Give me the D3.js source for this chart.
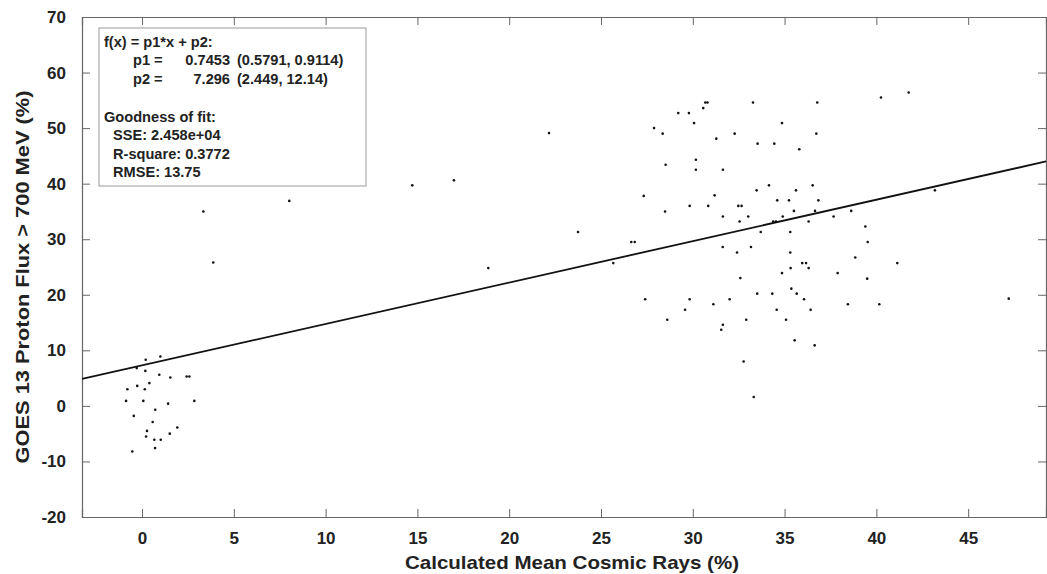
<!doctype html>
<meta charset='utf-8' />
<script src='https://cdn.jsdelivr.net/npm/d3@7'></script>
<style>
    body { margin: 0; background: #fff; }
    text { font-family: 'Liberation Sans', Arial, sans-serif; font-weight: bold; fill: #222; }
</style>
<svg></svg>
<script>
    var width = 1047,
        height = 574,
        margin = { left: 82, right: 1, top: 17, bottom: 57 }

    // calculated mean cosmic rays (%)
    var cosmic = [
        0.20, 1.00, -0.29, 0.18, 0.94, 1.54, 2.43, 2.58, -0.80, -0.26, 0.15, 0.40, -0.87, 0.07,
        2.85, 1.42, 0.72, -0.45, 0.58, 1.92, 0.27, 1.51, 0.22, 0.67, 1.02, -0.53, 0.71,
        3.34, 3.88, 8.02, 14.72, 16.99, 18.86, 22.17, 23.75,
        30.68, 30.80, 30.57, 29.21, 29.79, 30.07, 27.89, 28.36, 32.28, 31.28, 33.28, 33.53,
        30.17, 28.52, 30.17, 31.64, 33.48, 27.33, 31.19, 29.83, 30.84, 32.48, 32.66, 28.49,
        31.64, 33.02, 32.55, 26.65, 26.84, 31.63, 33.17,
        32.41, 25.67, 32.59, 33.51, 27.41, 29.83, 32.01, 29.58, 31.12, 28.61, 32.91, 31.64,
        31.55, 32.77, 33.32,
        36.78, 40.25, 41.76, 34.86, 36.73, 34.44, 35.80, 34.15, 35.62, 36.53, 34.60, 35.24,
        36.84, 35.51, 36.66, 43.19, 34.90, 34.38, 34.53, 36.31, 37.67, 38.63, 33.70, 35.31,
        39.40, 39.53, 35.31, 38.85, 41.14, 35.96, 36.17, 34.86, 35.33, 36.31, 37.89, 39.50,
        34.33, 35.37, 35.66, 36.06, 38.45, 40.16, 47.21, 34.57, 36.42, 35.08, 35.55, 36.64
    ]

    // GOES 13 proton flux > 700 MeV (%)
    var proton = [
        8.3, 8.9, 6.8, 6.3, 5.6, 5.1, 5.3, 5.3, 3.0, 3.6, 3.0, 4.1, 0.9, 0.9,
        0.9, 0.4, -0.7, -1.8, -2.9, -3.9, -4.5, -5.0, -5.5, -6.1, -6.1, -8.2, -7.6,
        35.0, 25.8, 36.9, 39.7, 40.6, 24.8, 49.1, 31.3,
        54.6, 54.6, 53.6, 52.7, 52.7, 50.9, 50.0, 49.0, 49.0, 48.1, 54.6, 47.2,
        44.3, 43.4, 42.5, 42.5, 38.8, 37.8, 37.9, 36.0, 36.0, 36.0, 36.0, 35.0,
        34.1, 34.1, 33.2, 29.5, 29.5, 28.6, 28.6,
        27.6, 25.7, 23.0, 20.2, 19.2, 19.2, 19.2, 17.3, 18.3, 15.5, 15.5, 14.6,
        13.7, 8.0, 1.6,
        54.6, 55.5, 56.4, 50.9, 49.0, 47.2, 46.2, 39.7, 38.8, 39.7, 37.0, 37.0,
        37.0, 35.1, 35.1, 38.8, 34.1, 33.2, 33.2, 33.2, 34.1, 35.1, 31.3, 31.3,
        32.3, 29.5, 27.6, 26.7, 25.7, 25.7, 25.7, 23.9, 24.8, 24.8, 23.9, 22.9,
        20.2, 21.1, 20.2, 19.2, 18.3, 18.3, 19.3, 17.3, 17.3, 15.5, 11.8, 10.9
    ]

    var xTicks = [0, 5, 10, 15, 20, 25, 30, 35, 40, 45]
    var yTicks = [-20, -10, 0, 10, 20, 30, 40, 50, 60, 70]

    // linear fit f(x) = p1*x + p2
    var p1 = 0.7453,
        p2 = 7.296

    var fitLines = [
        ['f(x) = p1*x + p2:'],
        ['p1 =', '0.7453', '(0.5791, 0.9114)'],
        ['p2 =', '7.296', '(2.449, 12.14)'],
        ['Goodness of fit:'],
        ['SSE: 2.458e+04'],
        ['R-square: 0.3772'],
        ['RMSE: 13.75']
    ]

    var svg = d3.select('svg')
        .attr('width', width)
        .attr('height', height)

    var x = d3.scaleLinear()
        .domain([-3.27, 49.24])
        .range([margin.left, width - margin.right])

    var y = d3.scaleLinear()
        .domain([-20, 70])
        .range([height - margin.bottom, margin.top])

    var axisColor = '#666'
    var plain = d => String(d)   // hyphen minus, like the original

    function styleAxis(g, noLabels) {
        g.select('.domain').attr('stroke', axisColor).attr('stroke-width', 1.2)
        g.selectAll('.tick line').attr('stroke', axisColor)
        g.selectAll('.tick text')
            .attr('font-size', 17)
            .attr('font-family', "'Liberation Sans', Arial, sans-serif")
            .attr('font-weight', 'bold')
            .attr('fill', '#222')
        if (noLabels) g.selectAll('.tick text').remove()
    }

    svg.append('g')
        .attr('transform', 'translate(0,' + y(-20) + ')')
        .call(d3.axisBottom(x).tickValues(xTicks).tickFormat(plain).tickSize(-8).tickPadding(15))
        .call(g => styleAxis(g, false))

    svg.append('g')
        .attr('transform', 'translate(0,' + y(70) + ')')
        .call(d3.axisTop(x).tickValues(xTicks).tickSize(-8))
        .call(g => styleAxis(g, true))

    svg.append('g')
        .attr('transform', 'translate(' + x.range()[0] + ',0)')
        .call(d3.axisLeft(y).tickValues(yTicks).tickFormat(plain).tickSize(-8).tickPadding(16))
        .call(g => styleAxis(g, false))

    svg.append('g')
        .attr('transform', 'translate(' + x.range()[1] + ',0)')
        .call(d3.axisRight(y).tickValues(yTicks).tickSize(-8))
        .call(g => styleAxis(g, true))

    // fitted line
    var xd = x.domain()
    svg.append('line')
        .attr('x1', x(xd[0]))
        .attr('y1', y(p1 * xd[0] + p2))
        .attr('x2', x(xd[1]))
        .attr('y2', y(p1 * xd[1] + p2))
        .attr('stroke', '#111')
        .attr('stroke-width', 1.8)

    // data points
    svg.selectAll('circle')
        .data(cosmic)
        .enter()
        .append('circle')
        .attr('cx', d => x(d))
        .attr('cy', (d, i) => y(proton[i]))
        .attr('r', 1.3)
        .attr('fill', '#111')

    // fit result box
    var box = svg.append('g')
    box.append('rect')
        .attr('x', 99)
        .attr('y', 28)
        .attr('width', 267)
        .attr('height', 158)
        .attr('fill', '#fff')
        .attr('stroke', '#999')
        .attr('stroke-width', 1)

    var baselines = [47, 65, 84, 122, 140, 159, 177]
    var firstX = [104, 133, 133, 104, 113, 113, 113]
    var fs = 14.6

    fitLines.forEach((parts, i) => {
        box.append('text')
            .attr('x', firstX[i])
            .attr('y', baselines[i])
            .attr('font-size', fs)
            .text(parts[0])
        if (parts.length > 1) {
            box.append('text')
                .attr('x', 230)
                .attr('y', baselines[i])
                .attr('font-size', fs)
                .attr('text-anchor', 'end')
                .text(parts[1])
            box.append('text')
                .attr('x', 237)
                .attr('y', baselines[i])
                .attr('font-size', fs)
                .text(parts[2])
        }
    })

    // axis titles
    svg.append('text')
        .attr('x', 572)
        .attr('y', 569)
        .attr('text-anchor', 'middle')
        .attr('font-size', 19)
        .attr('textLength', 334)
        .attr('lengthAdjust', 'spacingAndGlyphs')
        .text('Calculated Mean Cosmic Rays (%)')

    svg.append('text')
        .attr('transform', 'translate(29,277) rotate(-90)')
        .attr('text-anchor', 'middle')
        .attr('font-size', 19)
        .attr('textLength', 373)
        .attr('lengthAdjust', 'spacingAndGlyphs')
        .text('GOES 13 Proton Flux > 700 MeV (%)')
</script>
